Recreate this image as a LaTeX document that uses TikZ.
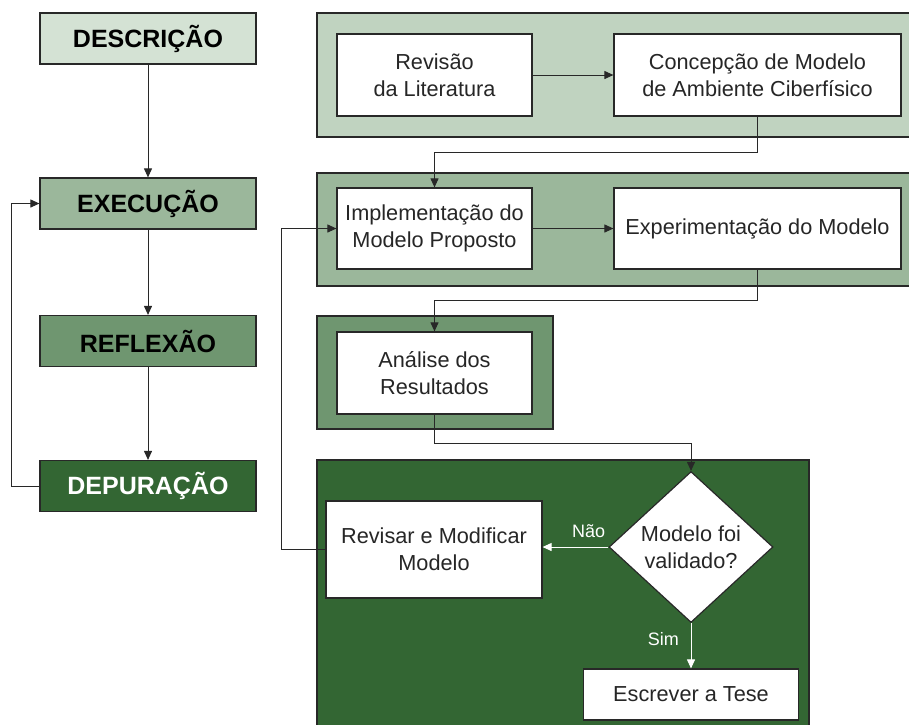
\documentclass[tikz,border=0pt]{standalone}
\usepackage{fontspec}
\setmainfont{Liberation Sans}
\usetikzlibrary{shapes.geometric,arrows.meta}
\definecolor{verdeA}{RGB}{212,226,212}
\definecolor{verdeB}{RGB}{192,211,192}
\definecolor{verdeC}{RGB}{155,183,155}
\definecolor{verdeD}{RGB}{111,150,112}
\definecolor{verdeE}{RGB}{51,102,51}
\definecolor{linha}{RGB}{40,40,40}

\begin{document}
\begin{tikzpicture}[x=0.5pt,y=-0.5pt,
  >={Triangle[length=4.5pt,width=4pt]},
  fase/.style={draw=linha,line width=0.6pt,minimum width=108pt,minimum height=25.5pt,inner sep=0pt,
    font=\fontsize{12.5}{14}\selectfont\bfseries},
  tarefa/.style={draw=linha,line width=0.6pt,fill=white,align=center,inner sep=2pt,text=black!85,
    font=\fontsize{10.85}{13.5}\selectfont},
  grupo/.style={draw=linha,line width=0.6pt},
  seta/.style={->,draw=linha,line width=0.5pt},
  setab/.style={->,draw=white,fill=white,line width=0.5pt},
  rotulo/.style={text=white,font=\fontsize{9}{11}\selectfont}]

\useasboundingbox (0,0) rectangle (909,724);

\draw[grupo,fill=verdeB] (317,13) rectangle (912,137);
\draw[grupo,fill=verdeC] (317,173) rectangle (912,286);
\draw[grupo,fill=verdeD] (317,316) rectangle (553,429);
\draw[grupo,fill=verdeE] (317,460) rectangle (809,728);

\node[fase,fill=verdeA] (desc) at (148,38.5) {DESCRIÇÃO};
\node[fase,fill=verdeC] (exec) at (148,203.5) {EXECUÇÃO};
\node[fase,fill=verdeD] (refl) at (148,341) {REFLEXÃO};
\node[fase,fill=verdeE,text=white] (depu) at (148,486) {DEPURAÇÃO};

\node[tarefa,minimum width=97.5pt,minimum height=41pt] (rev) at (434.5,75) {Revisão\\da Literatura};
\node[tarefa,minimum width=143.5pt,minimum height=41pt] (conc) at (757.5,75) {Concepção de Modelo\\de Ambiente Ciberfísico};
\node[tarefa,minimum width=97.5pt,minimum height=40.5pt] (impl) at (434.5,228.5) {Implementação do\\Modelo Proposto};
\node[tarefa,minimum width=143.5pt,minimum height=40.5pt] (expe) at (757.5,228.5) {Experimentação do Modelo};
\node[tarefa,minimum width=97.5pt,minimum height=41pt] (anal) at (434.5,373) {Análise dos\\Resultados};
\node[tarefa,minimum width=108pt,minimum height=48.5pt] (rvs) at (434,549.5) {Revisar e Modificar\\Modelo};
\node[tarefa,diamond,aspect=1.09,minimum width=82pt,minimum height=75.5pt,inner sep=0pt] (dec) at (691,547) {Modelo foi\\validado?};
\node[tarefa,minimum width=107.5pt,minimum height=25.5pt] (esc) at (691,694.5) {Escrever a Tese};

\draw[seta] (desc) -- (exec);
\draw[seta] (exec) -- (refl);
\draw[seta] (refl) -- (depu);
\draw[seta] (depu.west) -- ++(-28,0) |- (exec.west);
\draw[seta] (rev) -- (conc);
\draw[seta] (conc.south) -- ++(0,36) -| (impl.north);
\draw[seta] (impl) -- (expe);
\draw[seta] (expe.south) -- ++(0,31) -| (anal.north);
\draw[seta] (anal.south) -- ++(0,29) -| (dec.north);
\draw[setab] (dec.west) -- (dec.west -| rvs.east) node[rotulo,pos=0.3,above=1pt] {Não};
\draw[setab] (dec.south) -- (esc.north) node[rotulo,pos=0.35,left=2.5pt] {Sim};
\draw[seta] (rvs.west) -- ++(-44,0) |- (impl.west);
\end{tikzpicture}
\end{document}
